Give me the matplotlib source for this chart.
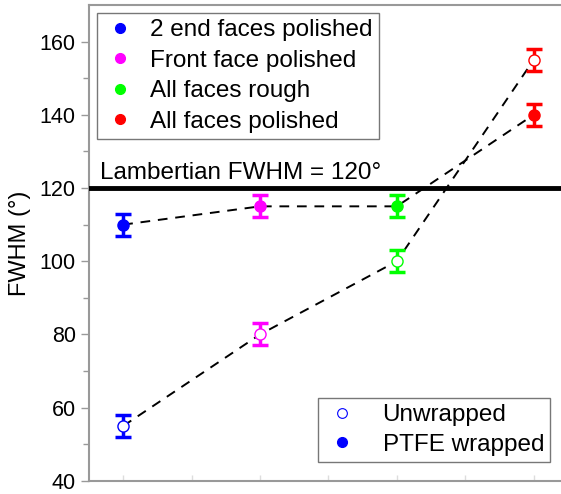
import matplotlib
matplotlib.use("Agg")
import matplotlib.pyplot as plt
from matplotlib.lines import Line2D

plt.rcParams['font.family'] = ['Liberation Sans', 'DejaVu Sans']

# Sample surface treatments (x positions 1..4)
treatments = ["2 end faces polished", "Front face polished", "All faces rough", "All faces polished"]
colors = ["#0000ff", "#ff00ff", "#00ff00", "#ff0000"]
positions = [1, 2, 3, 4]

# FWHM measurements (degrees)
unwrapped = [55, 80, 100, 155]
unwrapped_err = [3, 3, 3, 3]
ptfe_wrapped = [110, 115, 115, 140]
ptfe_err = [3, 3, 3, 3]

lambertian = 120

fig = plt.figure(figsize=(5.61, 4.94), dpi=100)
ax = fig.add_axes([0.1586, 0.0265, 0.8414, 0.9634])

# Dashed trend lines
ax.plot(positions, unwrapped, ls=(0, (5, 4)), color="black", lw=1.4, zorder=2)
ax.plot(positions, ptfe_wrapped, ls=(0, (5, 4)), color="black", lw=1.4, zorder=2)

for x, c, u, ue, p, pe in zip(positions, colors, unwrapped, unwrapped_err, ptfe_wrapped, ptfe_err):
    ax.errorbar(x, u, yerr=ue, fmt="none", ecolor=c, elinewidth=2.5,
                capsize=6, capthick=2.5, zorder=3)
    ax.plot(x, u, "o", ms=8, mfc="white", mec=c, mew=1.0, zorder=4)
    ax.errorbar(x, p, yerr=pe, fmt="none", ecolor=c, elinewidth=2.5,
                capsize=6, capthick=2.5, zorder=3)
    ax.plot(x, p, "o", ms=8, mfc=c, mec=c, zorder=4)

# Lambertian reference
ax.axhline(lambertian, color="black", lw=3.5, zorder=5)
ax.text(0.83, lambertian + 1.0, "Lambertian FWHM = 120\u00b0", fontsize=17.5, ha="left", va="bottom")

ax.set_xlim(0.75, 4.2)
ax.set_ylim(40, 170)
ax.set_yticks([40, 60, 80, 100, 120, 140, 160])
ax.set_yticks(range(50, 170, 20), minor=True)
ax.set_xticks(positions)
ax.set_xticks([1.5, 2.5, 3.5], minor=True)
ax.set_xticklabels([])
ax.tick_params(axis="y", which="major", labelsize=15.5, length=6, width=1, color="#999999", direction="out")
ax.tick_params(axis="y", which="minor", length=4, width=1, color="#999999", direction="out")
ax.tick_params(axis="x", which="both", length=4, width=1, color="#dddddd", direction="in")
ax.set_ylabel("FWHM (\u00b0)", fontsize=17, labelpad=6)

for side in ["left", "top", "bottom"]:
    ax.spines[side].set_color("#999999")
    ax.spines[side].set_linewidth(1.5)
ax.spines["right"].set_visible(False)

# Legend for treatments
h1 = [Line2D([], [], marker="o", ls="none", ms=7, color=c) for c in colors]
leg1 = ax.legend(h1, treatments, loc="upper left", bbox_to_anchor=(0.017, 0.983),
                 fontsize=17.5, frameon=True, fancybox=False, edgecolor="#555555",
                 handletextpad=0.55, labelspacing=0.35, borderpad=0.25, handlelength=1.4,
                 borderaxespad=0)
leg1.get_frame().set_linewidth(1.0)
ax.add_artist(leg1)

# Legend for wrapping
h2 = [Line2D([], [], marker="o", ls="none", ms=7, mfc="white", mec="#0000ff", mew=0.8),
      Line2D([], [], marker="o", ls="none", ms=7, color="#0000ff")]
leg2 = ax.legend(h2, ["Unwrapped", "PTFE wrapped"], loc="lower right",
                 bbox_to_anchor=(0.977, 0.04), fontsize=17.5, frameon=True, fancybox=False,
                 edgecolor="#555555", handletextpad=0.9, labelspacing=0.3, borderpad=0.25,
                 handlelength=1.5, borderaxespad=0)
leg2.get_frame().set_linewidth(1.0)

fig.savefig("out.png", dpi=100)
